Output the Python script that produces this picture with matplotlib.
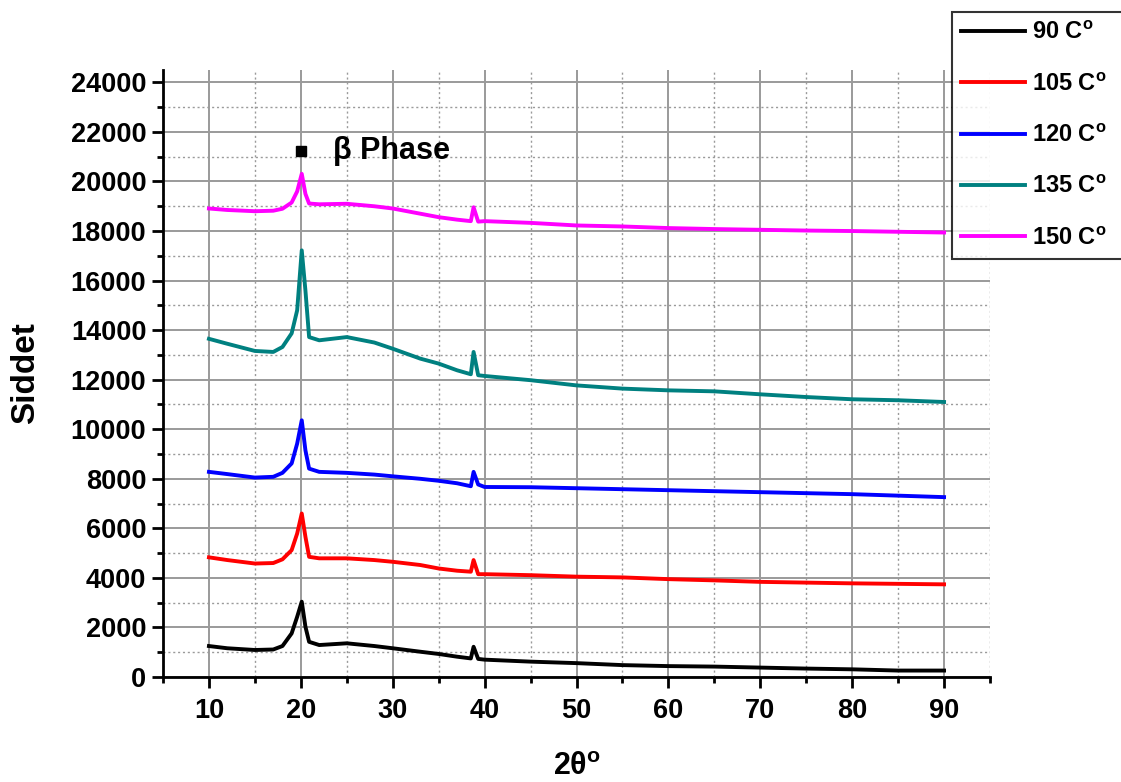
import matplotlib
matplotlib.use("Agg")
import matplotlib.pyplot as plt
from matplotlib.ticker import MultipleLocator

plt.rcParams["font.family"] = ["Liberation Sans", "DejaVu Sans"]
plt.rcParams["font.weight"] = "bold"
plt.rcParams["mathtext.fontset"] = "custom"
plt.rcParams["mathtext.rm"] = "Liberation Sans:bold"
plt.rcParams["mathtext.bf"] = "Liberation Sans:bold"

two_theta = [10, 12, 15, 17, 18, 19, 19.6, 20.1, 20.5, 20.9, 22, 25, 28, 30,
             33, 35, 37, 38.5, 38.8, 39.3, 40, 45, 50, 55, 60, 65, 70, 75,
             80, 85, 90]

i_90 = [1250, 1160, 1090, 1110, 1250, 1760, 2430, 3040, 2030, 1420, 1290,
        1360, 1250, 1160, 1020, 930, 820, 750, 1220, 730, 700, 620, 560,
        480, 440, 420, 380, 340, 310, 260, 260]
i_105 = [4830, 4720, 4580, 4600, 4750, 5120, 5790, 6600, 5660, 4850, 4790,
         4790, 4720, 4650, 4520, 4380, 4290, 4250, 4720, 4150, 4150, 4110,
         4050, 4020, 3950, 3900, 3840, 3810, 3780, 3760, 3740]
i_120 = [8280, 8190, 8050, 8080, 8240, 8620, 9420, 10360, 9150, 8410, 8280,
         8240, 8170, 8100, 8000, 7920, 7820, 7700, 8280, 7770, 7670, 7660,
         7620, 7580, 7540, 7500, 7460, 7420, 7380, 7320, 7260]
i_135 = [13650, 13450, 13160, 13120, 13320, 13870, 14800, 17220, 15600,
         13720, 13590, 13720, 13500, 13250, 12850, 12650, 12380, 12220,
         13120, 12180, 12150, 11980, 11770, 11640, 11570, 11530, 11410,
         11300, 11210, 11170, 11100]
i_150 = [18910, 18850, 18800, 18820, 18900, 19150, 19600, 20310, 19500,
         19110, 19080, 19100, 19000, 18910, 18700, 18560, 18460, 18400,
         18960, 18380, 18400, 18330, 18225, 18185, 18120, 18080, 18050,
         18020, 18000, 17970, 17940]

series = [i_90, i_105, i_120, i_135, i_150]
etiquetas = ["90 C$^{\\mathbf{o}}$", "105 C$^{\\mathbf{o}}$",
             "120 C$^{\\mathbf{o}}$", "135 C$^{\\mathbf{o}}$",
             "150 C$^{\\mathbf{o}}$"]
colores = ["#000000", "#FF0000", "#0000FF", "#008080", "#FF00FF"]

beta_x = [20]
beta_y = [21250]

# ── Figura ─────────────────────────────────────────────────────────────────
fig = plt.figure(figsize=(11.21, 7.82), dpi=100)
ax = fig.add_axes([163 / 1121, 105 / 782, 827 / 1121, 607 / 782])

for y, c, lab in zip(series, colores, etiquetas):
    # el recuadro de la leyenda sale del lienzo por la derecha
    ax.plot(two_theta, y, color=c, lw=2.8, label=lab + "\u00a0\u00a0\u00a0",
            zorder=3)

ax.plot(beta_x, beta_y, "s", color="black", ms=7, zorder=4)
ax.text(23.5, beta_y[0], "β Phase", fontsize=22, fontweight="bold",
        va="center", ha="left")

ax.set_xlim(5, 95)
ax.set_ylim(0, 24500)
ax.xaxis.set_major_locator(MultipleLocator(10))
ax.xaxis.set_minor_locator(MultipleLocator(5))
ax.yaxis.set_major_locator(MultipleLocator(2000))
ax.yaxis.set_minor_locator(MultipleLocator(1000))
ax.set_xticks(range(10, 91, 10))

ax.grid(which="major", color="#9a9a9a", lw=1.4, ls="-", zorder=0)
ax.grid(which="minor", color="#9a9a9a", lw=1.0, ls=(0, (1.5, 2)), zorder=0)

for s in ["top", "right"]:
    ax.spines[s].set_visible(False)
for s in ["left", "bottom"]:
    ax.spines[s].set_linewidth(2)

ax.tick_params(axis="x", which="major", pad=7)
ax.tick_params(axis="y", which="major", pad=4)
ax.tick_params(which="major", direction="out", length=8, width=2,
               labelsize=19.5)
ax.tick_params(which="minor", direction="out", length=4, width=2)
for lbl in ax.get_xticklabels() + ax.get_yticklabels():
    lbl.set_fontweight("bold")

ax.set_xlabel("2θ$^{\\mathbf{o}}$", fontsize=22, fontweight="bold",
              labelpad=20)
ax.set_ylabel("Siddet", fontsize=24, fontweight="bold", labelpad=21)

leg = fig.legend(loc="lower left", bbox_to_anchor=(952 / 1121, 523 / 782),
                 fontsize=17, handlelength=2.7, handletextpad=0.3,
                 labelspacing=1.2, borderpad=0.4, borderaxespad=0,
                 frameon=True, fancybox=False, edgecolor="black")
leg.get_frame().set_linewidth(1.5)
for t in leg.get_texts():
    t.set_fontweight("bold")

fig.savefig("out.png", dpi=100)
